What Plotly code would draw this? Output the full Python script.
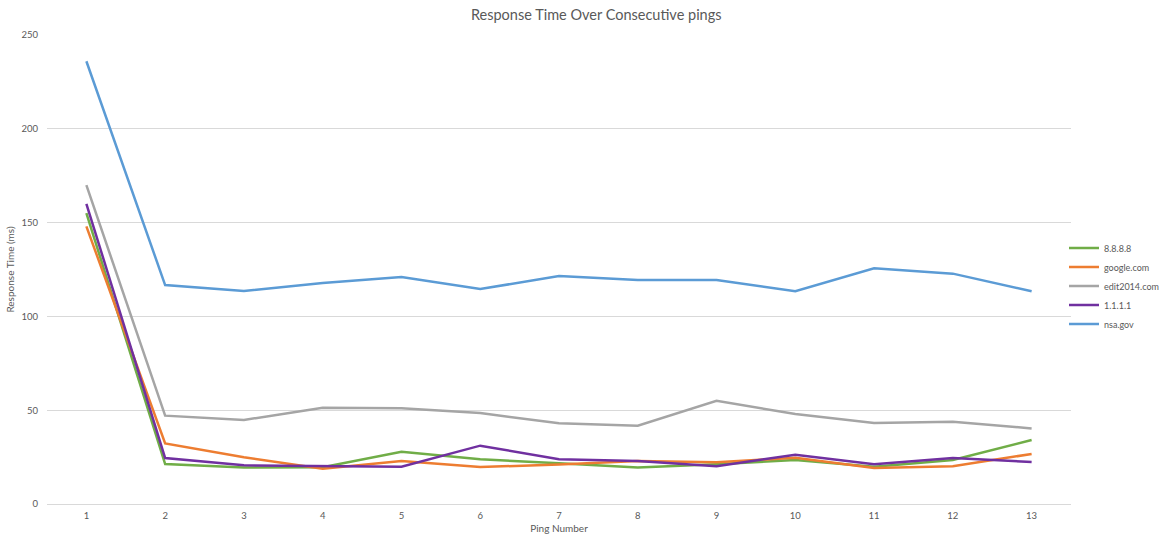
import plotly.graph_objects as go

pings = [1, 2, 3, 4, 5, 6, 7, 8, 9, 10, 11, 12, 13]
tick_labels = [str(p) for p in pings]

s_8888 = [155, 21.3, 19.4, 19.6, 27.9, 23.8, 21.7, 19.4, 21.2, 23.5, 19.9, 23.5, 34.1]
s_google = [148, 32.3, 24.9, 18.8, 22.9, 19.7, 21.0, 22.9, 22.2, 24.7, 19.2, 20.1, 26.7]
s_edit = [170, 47.1, 44.8, 51.3, 51.0, 48.5, 43.0, 41.7, 55.0, 48.0, 43.2, 43.9, 40.3]
s_1111 = [160, 24.5, 20.6, 20.4, 19.9, 31.1, 23.8, 22.9, 20.1, 26.3, 21.2, 24.5, 22.4]
s_nsa = [236, 116.7, 113.5, 117.8, 121.0, 114.6, 121.5, 119.4, 119.4, 113.4, 125.6, 122.8, 113.4]

series_names = ["8.8.8.8", "google.com", "edit2014.com", "1.1.1.1", "nsa.gov"]
series_values = [s_8888, s_google, s_edit, s_1111, s_nsa]
colors = ["#70AD47", "#ED7D31", "#A5A5A5", "#7030A0", "#5B9BD5"]

FONT = "Lato, 'Open Sans', sans-serif"
TXT = "#595959"

fig = go.Figure()
for name, vals, col in zip(series_names, series_values, colors):
    fig.add_trace(go.Scatter(
        x=tick_labels, y=vals, name=name, mode="lines",
        line=dict(color=col, width=2.5),
    ))

fig.update_layout(
    width=1160, height=537,
    margin=dict(l=47, r=89, t=35, b=33, autoexpand=False),
    paper_bgcolor="white", plot_bgcolor="white",
    font=dict(family=FONT, color=TXT, size=10),
    title=dict(text="Response Time Over Consecutive pings", x=0.514, xref="container",
               xanchor="center", y=1 - 15 / 537, yref="container", yanchor="middle",
               font=dict(size=14.5, color=TXT, family=FONT)),
    showlegend=True,
    legend=dict(xref="container", x=1064 / 1160, xanchor="left",
                yref="container", y=1 - 286 / 537, yanchor="middle",
                font=dict(size=9, color=TXT, family=FONT),
                itemwidth=30, tracegroupgap=0, bgcolor="rgba(0,0,0,0)"),
    xaxis=dict(type="category", range=[-0.5, 12.5], showgrid=False,
               showline=True, linecolor="#D9D9D9", linewidth=1,
               ticks="", tickfont=dict(size=9.5, color=TXT), ticklabelstandoff=3,
               automargin=False,
               title=dict(text="Ping Number", font=dict(size=10, color=TXT), standoff=4),
               zeroline=False),
    yaxis=dict(range=[0, 250], dtick=50, showgrid=True, gridcolor="#D9D9D9",
               gridwidth=1, zeroline=False, showline=False, ticks="",
               automargin=False,
               tickfont=dict(size=9.5, color=TXT), ticklabelstandoff=8,
               title=dict(text="Response Time (ms)", font=dict(size=10, color=TXT), standoff=4)),
)

fig.write_html("out.html")
